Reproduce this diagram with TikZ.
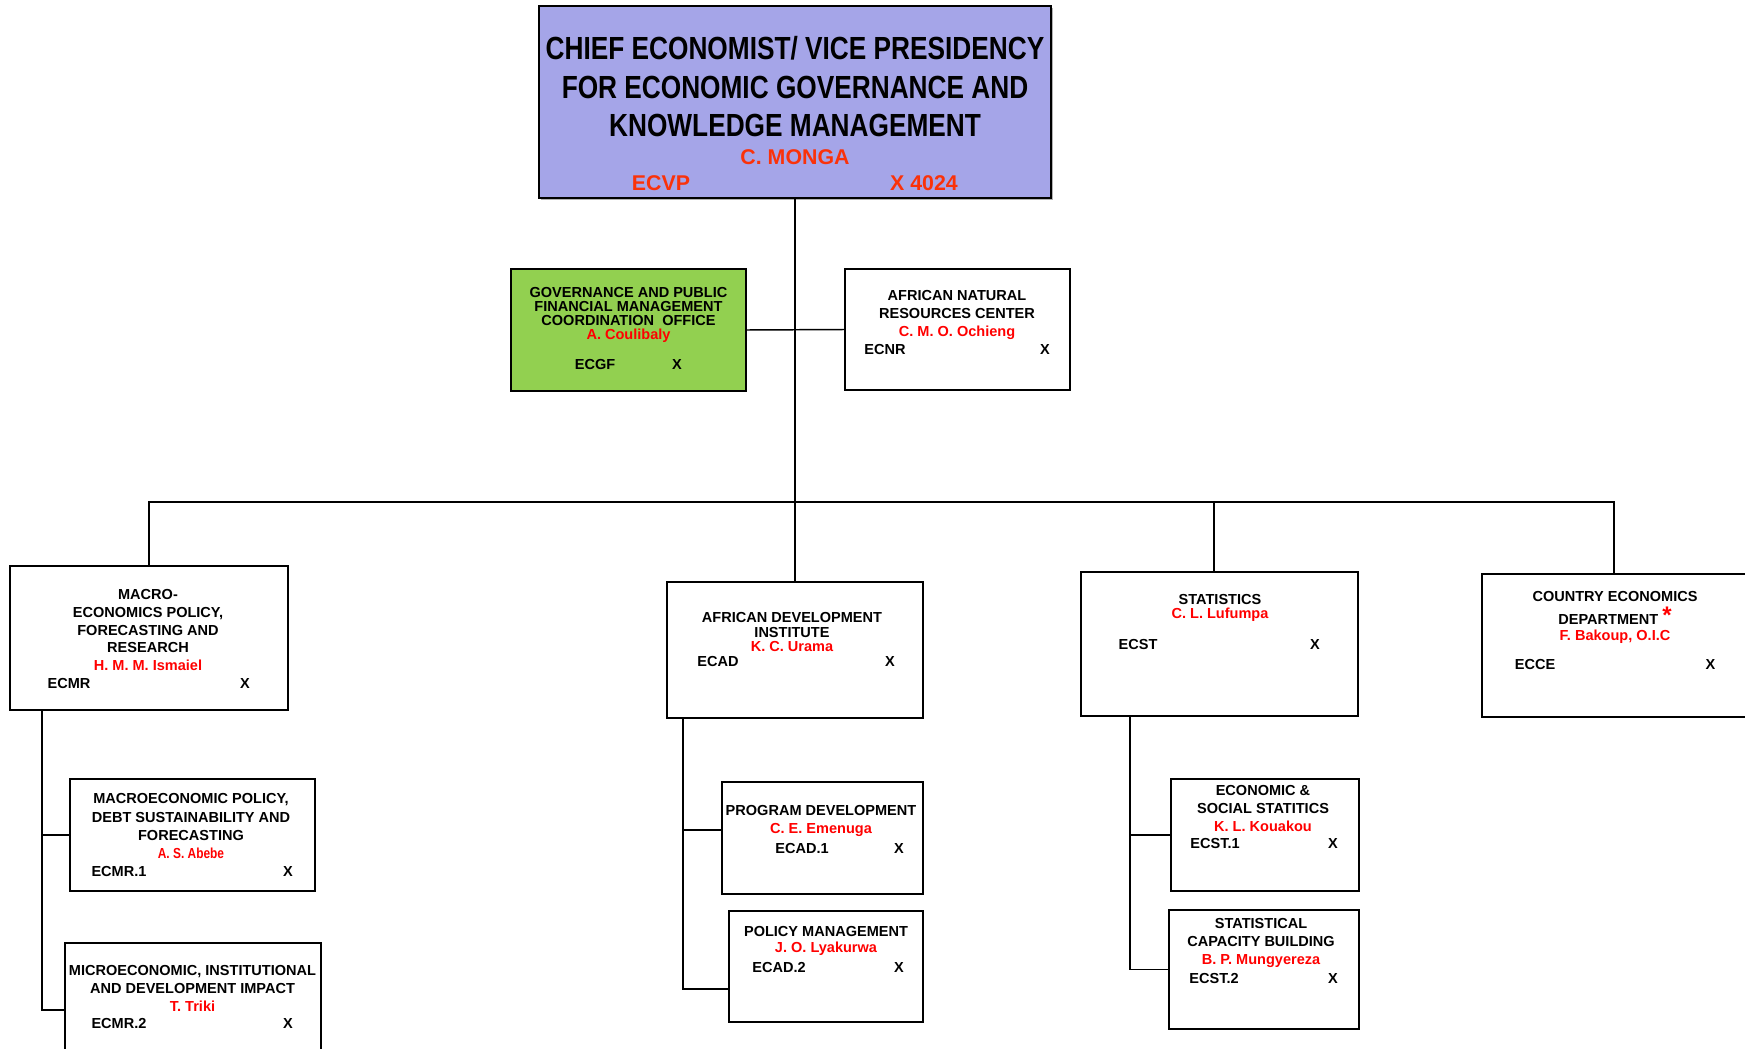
\documentclass[tikz,border=0pt]{standalone}
\usepackage{fontspec}
\setmainfont{Liberation Sans}
\newfontfamily\narrowfont{Liberation Sans}[FakeStretch=0.82]
\usetikzlibrary{positioning,shadows}
\definecolor{TopFill}{RGB}{165,165,232}
\definecolor{OfficeGreen}{RGB}{146,208,80}
\definecolor{TopRed}{RGB}{250,50,10}
\definecolor{NameRed}{RGB}{255,0,0}
\newcommand{\headname}[1]{\textcolor{NameRed}{#1}}

\begin{document}
\begin{tikzpicture}[x=0.75pt,y=-0.75pt]
  \useasboundingbox (0,0) rectangle (1745,1049);
  \tikzset{OrgBox/.style 2 args = {draw,
                                   line width     = 1.4pt,
                                   minimum width  = #1*0.75pt,
                                   minimum height = #2*0.75pt,
                                   inner sep      = 0pt,
                                   outer sep      = 0pt}}

  \tikzset{TitleText/.style = {align       = center,
                               inner sep   = 0pt,
                               font        = \narrowfont\bfseries\fontsize{24}{28.9}\selectfont}}

  \tikzset{TopName/.style   = {inner sep   = 0pt,
                               text        = TopRed,
                               font        = \bfseries\fontsize{16}{19}\selectfont}}

  \tikzset{BoxText/.style   = {align       = center,
                               inner sep   = 0pt,
                               font        = \bfseries\fontsize{10.9}{13.5}\selectfont}}

  \tikzset{CodeText/.style  = {inner sep   = 0pt,
                               font        = \bfseries\fontsize{10.9}{13}\selectfont}}

  \tikzset{Conn/.style      = {line width  = 1.1pt}}

  % vice presidency
  \node[OrgBox={512}{192}, fill=TopFill,
        drop shadow={shadow xshift=1.5pt,shadow yshift=-1.5pt,fill=black!60}] (VP) at (795,102) {};
  \node[TitleText] (VP_t) at (795,87) {CHIEF ECONOMIST/ VICE PRESIDENCY\\FOR ECONOMIC GOVERNANCE AND\\KNOWLEDGE MANAGEMENT};
  \node[TopName] (VP_n) at (795,157) {C. MONGA};
  \node[TopName] (VP_c) at (661,183) {ECVP};
  \node[TopName] (VP_x) at (924,183) {X 4024};

  % offices
  \node[OrgBox={235}{122}, fill=OfficeGreen] (GF) at (628.5,330) {};
  \node[BoxText, font=\bfseries\fontsize{10.9}{10.5}\selectfont] (GF_t) at (628.5,315)
       {GOVERNANCE AND PUBLIC\\FINANCIAL MANAGEMENT\\COORDINATION~~OFFICE\\\headname{A. Coulibaly}};
  \node[CodeText] (GF_c) at (595,364) {ECGF};
  \node[CodeText] (GF_x) at (677,364) {X};

  \node[OrgBox={225}{121}] (NR) at (957.5,329.5) {};
  \node[BoxText] (NR_t) at (957,315) {AFRICAN NATURAL\\RESOURCES CENTER\\\headname{C. M. O. Ochieng}};
  \node[CodeText] (NR_c) at (885,349) {ECNR};
  \node[CodeText] (NR_x) at (1045,349) {X};

  % departments
  \node[OrgBox={278}{144}] (MR) at (149,638) {};
  \node[BoxText, font=\bfseries\fontsize{10.9}{13.2}\selectfont] (MR_t) at (148,630)
       {MACRO-\\ECONOMICS POLICY,\\FORECASTING AND\\RESEARCH\\\headname{H. M. M. Ismaiel}};
  \node[CodeText] (MR_c) at (69,683) {ECMR};
  \node[CodeText] (MR_x) at (245,683) {X};

  \node[OrgBox={256}{136}] (AD) at (795,650) {};
  \node[BoxText, font=\bfseries\fontsize{10.9}{10.8}\selectfont] (AD_t) at (792,632)
       {AFRICAN DEVELOPMENT\\INSTITUTE\\\headname{K. C. Urama}};
  \node[CodeText] (AD_c) at (718,661) {ECAD};
  \node[CodeText] (AD_x) at (890,661) {X};

  \node[OrgBox={277}{144}] (ST) at (1219.5,644) {};
  \node[BoxText, font=\bfseries\fontsize{10.9}{10.5}\selectfont] (ST_t) at (1220,608)
       {STATISTICS\\\headname{C. L. Lufumpa}};
  \node[CodeText] (ST_c) at (1138,644) {ECST};
  \node[CodeText] (ST_x) at (1315,644) {X};

  \node[OrgBox={264}{143}] (CE) at (1614,645.5) {};
  \node[BoxText] (CE_t) at (1615,596.5) {COUNTRY ECONOMICS};
  \node[BoxText] (CE_d) at (1615,619)
       {DEPARTMENT \smash{\raisebox{0.5pt}{\textcolor{NameRed}{\fontsize{18}{18}\selectfont *}}}};
  \node[BoxText] (CE_n) at (1615,636.5) {\headname{F. Bakoup, O.I.C}};
  \node[CodeText] (CE_c) at (1535,664) {ECCE};
  \node[CodeText] (CE_x) at (1710.5,664) {X};

  % divisions
  \node[OrgBox={245}{112}] (MR_1) at (192.5,835) {};
  \node[BoxText, font=\bfseries\fontsize{10.9}{13.9}\selectfont] (MR_1t) at (191,817)
       {MACROECONOMIC POLICY,\\DEBT SUSTAINABILITY AND\\FORECASTING};
  \node[BoxText, font=\narrowfont\bfseries\fontsize{10.9}{13}\selectfont, text=NameRed] (MR_1n) at (191,853.5) {A. S. Abebe};
  \node[CodeText] (MR_1c) at (119,871) {ECMR.1};
  \node[CodeText] (MR_1x) at (288,871) {X};

  \node[OrgBox={256}{134}] (MR_2) at (193,1010) {};
  \node[BoxText] (MR_2t) at (192.5,988) {MICROECONOMIC, INSTITUTIONAL\\AND DEVELOPMENT IMPACT\\\headname{T. Triki}};
  \node[CodeText] (MR_2c) at (119,1023) {ECMR.2};
  \node[CodeText] (MR_2x) at (288,1023) {X};

  \node[OrgBox={201}{112}] (AD_1) at (822.5,838) {};
  \node[BoxText] (AD_1t) at (821,821) {PROGRAM DEVELOPMENT\\\headname{C. E. Emenuga}};
  \node[CodeText] (AD_1c) at (802,848) {ECAD.1};
  \node[CodeText] (AD_1x) at (899,848) {X};

  \node[OrgBox={194}{111}] (AD_2) at (826,966.5) {};
  \node[BoxText, font=\bfseries\fontsize{10.9}{12.4}\selectfont] (AD_2t) at (826,940.75)
       {POLICY MANAGEMENT\\\headname{J. O. Lyakurwa}};
  \node[CodeText] (AD_2c) at (779,967) {ECAD.2};
  \node[CodeText] (AD_2x) at (899,967) {X};

  \node[OrgBox={188}{112}] (ST_1) at (1265,835) {};
  \node[BoxText] (ST_1t) at (1263,808) {ECONOMIC \&\\SOCIAL STATITICS\\\headname{K. L. Kouakou}};
  \node[CodeText] (ST_1c) at (1215,843.5) {ECST.1};
  \node[CodeText] (ST_1x) at (1333,843.5) {X};

  \node[OrgBox={190}{119}] (ST_2) at (1264,969.5) {};
  \node[BoxText] (ST_2t) at (1261,943) {STATISTICAL\\CAPACITY BUILDING\\\headname{B. P. Mungyereza}};
  \node[CodeText] (ST_2c) at (1214,978) {ECST.2};
  \node[CodeText] (ST_2x) at (1333,978) {X};

  % connectors
  \draw[Conn] (VP.south) -- (AD.north);
  \draw[Conn] (GF.east) -- (NR.west);
  \draw[Conn] (MR.north) -- ++(0,-64) coordinate (bus) -| (CE.north);
  \coordinate (ST_in) at ([xshift=-4pt]ST.north);
  \draw[Conn] (ST_in) -- (ST_in |- bus);

  \coordinate (MR_s) at ([xshift=24pt]MR.south west);
  \draw[Conn] (MR_s) |- (MR_2.west);
  \draw[Conn] (MR_1.west) -- (MR_1.west -| MR_s);

  \coordinate (AD_s) at ([xshift=12pt]AD.south west);
  \coordinate (AD_1in) at ([yshift=6pt]AD_1.west);
  \coordinate (AD_2in) at ([yshift=-16.9pt]AD_2.west);
  \draw[Conn] (AD_s) |- (AD_2in);
  \draw[Conn] (AD_1in) -- (AD_1in -| AD_s);

  \coordinate (ST_s) at ([xshift=36.75pt]ST.south west);
  \draw[Conn] (ST_s) |- (ST_2.west);
  \draw[Conn] (ST_1.west) -- (ST_1.west -| ST_s);
\end{tikzpicture}
\end{document}
